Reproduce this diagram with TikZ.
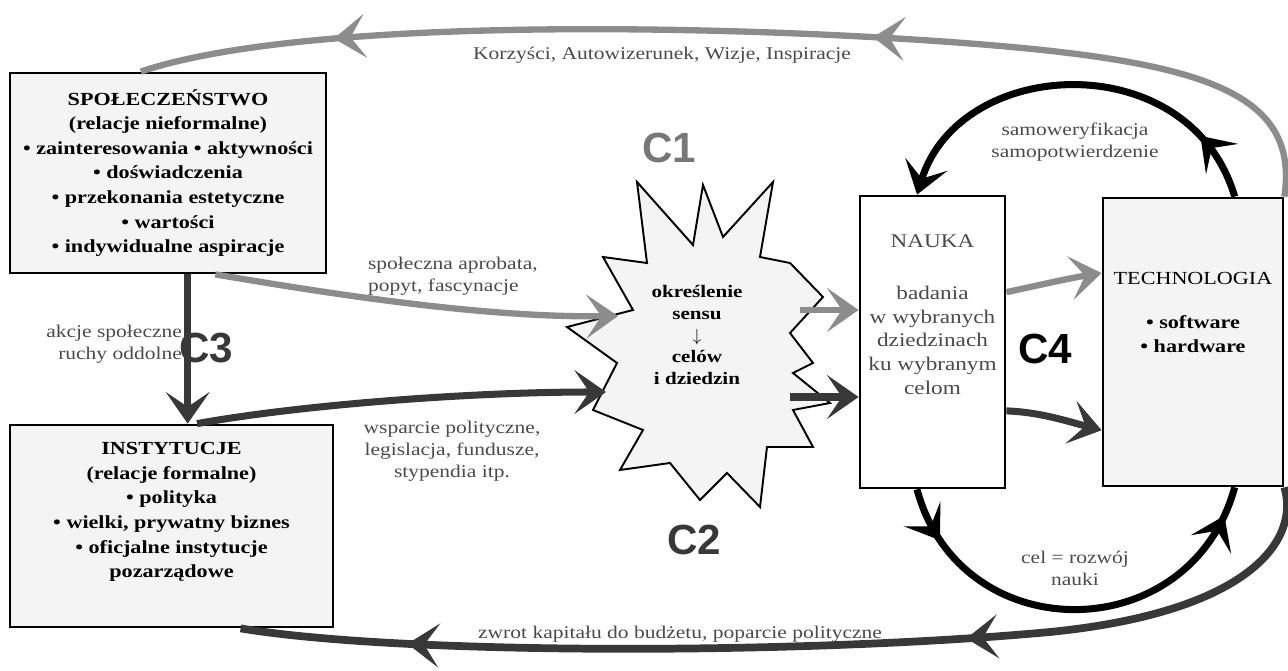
\documentclass[tikz,border=0pt]{standalone}
\usepackage{fontspec}
\setmainfont[FakeStretch=1.2]{Liberation Serif}
\setsansfont{Liberation Sans}
\usetikzlibrary{positioning}
\usetikzlibrary{arrows.meta}
\usetikzlibrary{decorations.markings}

\definecolor{jasny}{HTML}{8C8C8C}
\definecolor{ciemny}{HTML}{383838}
\definecolor{tlo}{HTML}{F4F4F4}
\definecolor{napis}{HTML}{4A4A4A}

\tikzset{spear/.tip={Stealth[length=18pt,width=25pt,inset=8.5pt]}}

\begin{document}
\begin{tikzpicture}[
    x=0.02cm, y=-0.02cm,
    box/.style={
        draw,
        line width=1.6pt,
        fill=tlo,
        align=center,
        inner sep=0pt,
        font=\bfseries\fontsize{10.5}{14}\selectfont
    },
    boxtext/.style={align=center, inner sep=0pt, font=\fontsize{10.5}{13.5}\selectfont},
    lbl/.style={align=center, inner sep=1pt, text=napis, font=\fontsize{10.2}{12.5}\selectfont},
    cee/.style={font=\sffamily\bfseries\fontsize{24}{24}\selectfont},
    grayarrow/.style={color=jasny, line width=3.6pt},
    darkarrow/.style={color=ciemny, line width=4pt},
    blackarrow/.style={color=black, line width=4pt},
    midarrow/.style={postaction={decorate, decoration={markings, mark=at position #1 with {\arrow{spear}}}}}
]
\useasboundingbox (0,0) rectangle (1288,671);

% prostokaty
\node[box, minimum width=6.32cm, minimum height=4cm] (spol) at (168,173)
    {SPOŁECZEŃSTWO\\(relacje nieformalne)\\• zainteresowania • aktywności\\• doświadczenia\\• przekonania estetyczne\\• wartości\\• indywidualne aspiracje};
\node[box, minimum width=6.46cm, minimum height=4.04cm] (inst) at (171.5,526)
    {INSTYTUCJE\\(relacje formalne)\\• polityka\\• wielki, prywatny biznes\\• oficjalne instytucje\\pozarządowe\\[4pt]\mbox{}};
\node[box, fill=white, minimum width=2.9cm, minimum height=5.84cm] (nauka) at (932.5,342) {};
\node[boxtext, text=napis, font=\fontsize{11}{13.5}\selectfont, below=0.8cm of nauka.north] (naukatxt)
    {NAUKA\\[16pt]badania\\w wybranych\\dziedzinach\\ku wybranym\\celom};
\node[box, minimum width=3.6cm, minimum height=5.76cm] (tech) at (1193,342) {};
\node[boxtext, below=1.5cm of tech.north] (techtxt)
    {TECHNOLOGIA\\[12pt]{\bfseries • software}\\{\bfseries • hardware}};

% gwiazda
\draw[line width=1.1pt, fill=tlo] (637,182) -- (693,245) -- (703,185) -- (723,237) -- (773,182)
    -- (760,257) -- (790,263) -- (823,297) -- (790,333) -- (813,363) -- (793,373) -- (830,403)
    -- (793,410) -- (813,447) -- (767,447) -- (760,507) -- (727,473) -- (700,500) -- (670,463)
    -- (620,470) -- (643,430) -- (593,410) -- (617,363) -- (567,327) -- (633,310) -- (603,257)
    -- (647,263) -- cycle;
\node[align=center, inner sep=0pt, font=\bfseries\fontsize{10}{12.5}\selectfont] (sens) at (697,335)
    {określenie\\sensu\\$\downarrow$\\celów\\i dziedzin};
\coordinate (starL1) at (618,316);
\coordinate (starL2) at (606,392);
\coordinate (starR1) at (800,310);
\coordinate (starR2) at (790,397);

% strzalki
\draw[grayarrow, midarrow=0.4, midarrow=0.84] (tech.north east) .. controls (1300,90) and (1200,60) .. (950,42)
    .. controls (700,24) and (300,18) .. (spol.105);
\draw[darkarrow, line width=4.4pt, midarrow=0.35, midarrow=0.85] (tech.south east) .. controls (1300,540) and (1250,612) .. (1050,632)
    .. controls (800,655) and (400,655) .. (inst.304);
\draw[grayarrow, -{spear}] (spol.295) .. controls (320,292) and (480,318) .. (starL1);
\draw[darkarrow, -{spear}] (inst.76) .. controls (300,405) and (470,392) .. (starL2);
\draw[darkarrow, -{spear}] (spol.281) -- (spol.281 |- inst.north);
\draw[grayarrow, -{spear}] (starR1) -- (starR1 -| nauka.west);
\draw[darkarrow, -{spear}] (starR2) -- (starR2 -| nauka.west);
\draw[grayarrow, -{spear}] (nauka.34) .. controls (1040,285) and (1070,278) .. (tech.143);
\draw[darkarrow, -{spear}] (nauka.317) .. controls (1040,412) and (1070,422) .. (tech.224);
\draw[blackarrow, -{spear}, midarrow=0.17] (tech.74) .. controls (1190,45) and (960,55) .. (nauka.96);
\draw[blackarrow, midarrow=0.13, midarrow=0.93] (nauka.264) .. controls (960,650) and (1190,650) .. (tech.286);

% opisy
\node[lbl] (korzysci) at (662,55) {Korzyści, Autowizerunek, Wizje, Inspiracje};
\node[lbl, anchor=west, align=left] (aprobata) at (366,276) {społeczna aprobata,\\popyt, fascynacje};
\node[lbl] (wsparcie) at (452,451) {wsparcie polityczne,\\legislacja, fundusze,\\stypendia itp.};
\node[lbl, anchor=east, align=right] (akcje) at (184,344) {akcje społeczne\\ruchy oddolne};
\node[lbl] (samo) at (1075,142) {samoweryfikacja\\samopotwierdzenie};
\node[lbl] (cel) at (1075,568) {cel = rozwój\\nauki};
\node[lbl] (zwrot) at (680,634) {zwrot kapitału do budżetu, poparcie polityczne};

\node[cee, text=jasny!85!black] (c1) at (669,148) {C1};
\node[cee, text=ciemny] (c2) at (694,540) {C2};
\node[cee, text=ciemny] (c3) at (206,348) {C3};
\node[cee] (c4) at (1045,349) {C4};

\end{tikzpicture}
\end{document}
